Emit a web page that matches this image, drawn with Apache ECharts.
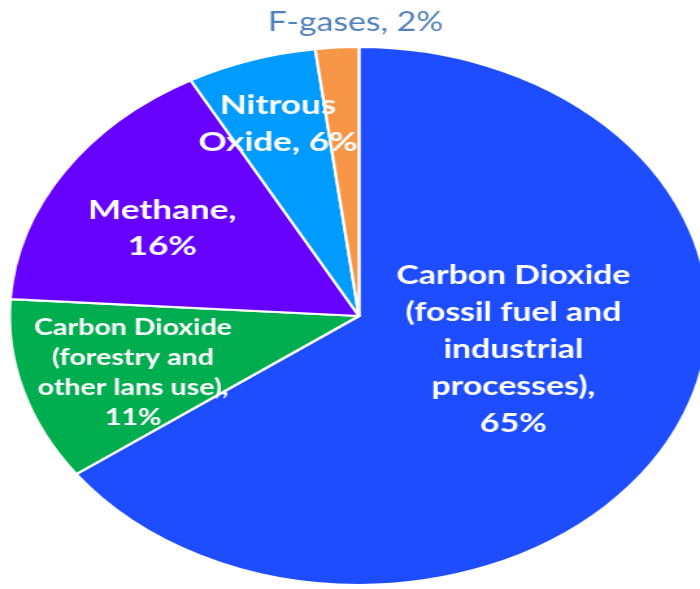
<!DOCTYPE html>
<html>
<head>
<meta charset="utf-8">
<script src="https://cdn.jsdelivr.net/npm/echarts@6/dist/echarts.min.js"></script>
<style>
  html, body { margin: 0; padding: 0; background: #ffffff; overflow: hidden; }
  #wrap { width: 700px; height: 589px; overflow: hidden; position: relative; }
  /* the pie is drawn round and then widened into an oval */
  #chart { width: 539px; height: 589px; transform: scaleX(1.2987); transform-origin: 0 0; }
</style>
</head>
<body>
<div id="wrap"><div id="chart"></div></div>
<script>
// Greenhouse gas emissions by gas, share of total (%)
const gases = [
  'Carbon Dioxide (fossil fuel and industrial processes)',
  'Carbon Dioxide (forestry and other lans use)',
  'Methane',
  'Nitrous Oxide',
  'F-gases'
];
const shares = [65, 11, 16, 6, 2];

// label text before the percentage, with its line breaks
const labelHeads = [
  'Carbon Dioxide\n(fossil fuel and\nindustrial\nprocesses),\n',
  'Carbon Dioxide\n(forestry and\nother lans use),\n',
  'Methane,\n',
  'Nitrous\nOxide, ',
  'F-gases, '
];

const sliceColors = ['#1e4dff', '#00ad4f', '#6600ff', '#009bff', '#f79646'];

// label anchor per slice: [fraction of radius, clockwise angle from 12 o'clock in degrees]
const labelSpots = [[0.46, 106], [0.68, 252], [0.65, 300], [0.75, 342], [1.09, 359.5]];
const labelStyles = [
  { fontSize: 26, lineHeight: 37, color: '#ffffff', fontWeight: 'bold' },
  { fontSize: 22, lineHeight: 30, color: '#ffffff', fontWeight: 'bold' },
  { fontSize: 27, lineHeight: 36, color: '#ffffff', fontWeight: 'bold' },
  { fontSize: 27, lineHeight: 37, color: '#ffffff', fontWeight: 'bold' },
  { fontSize: 26, lineHeight: 30, color: '#4f81bd', fontWeight: 'normal' }
];

const CX = 276.4, CY = 316, R = 269;

const chart = echarts.init(document.getElementById('chart'), null, { renderer: 'canvas' });

chart.setOption({
  animation: false,
  series: [{
    type: 'pie',
    center: [CX, CY],
    radius: [0, R],
    startAngle: 90,
    clockwise: true,
    avoidLabelOverlap: false,
    itemStyle: { borderColor: '#ffffff', borderWidth: 2.2 },
    label: {
      show: true,
      position: 'inside',
      fontFamily: 'Lato, "Liberation Sans", sans-serif',
      align: 'center',
      verticalAlign: 'middle',
      formatter: p => labelHeads[p.dataIndex] + p.value + '%'
    },
    labelLine: { show: false },
    labelLayout: p => {
      const [f, deg] = labelSpots[p.dataIndex];
      const a = deg * Math.PI / 180;
      return { x: CX + f * R * Math.sin(a), y: CY - f * R * Math.cos(a) };
    },
    data: gases.map((g, i) => ({
      name: g,
      value: shares[i],
      itemStyle: { color: sliceColors[i] },
      label: labelStyles[i]
    }))
  }]
});
</script>
</body>
</html>
